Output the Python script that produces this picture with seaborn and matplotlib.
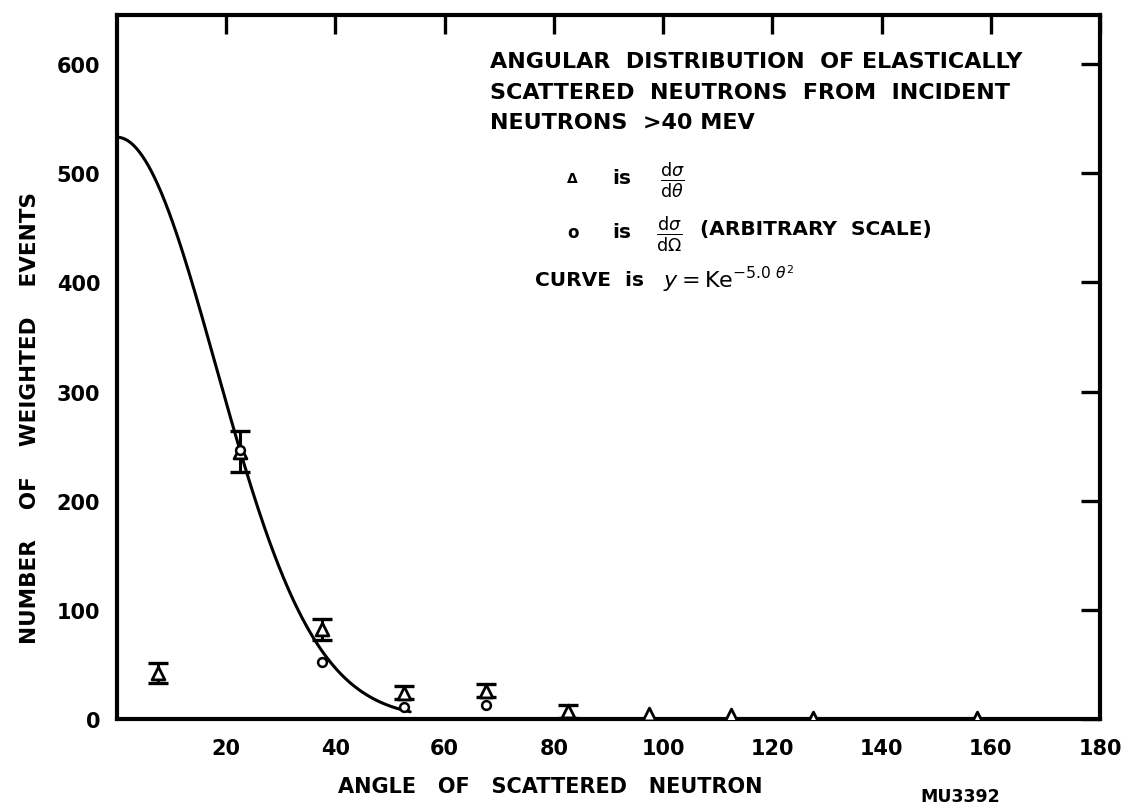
import numpy as np
import pandas as pd
import matplotlib
matplotlib.use("Agg")
import matplotlib.pyplot as plt
import seaborn as sns

# ---------------- data ----------------
tri_angle = [7.5, 22.5, 37.5, 52.5, 67.5, 82.5, 97.5, 112.5, 127.5, 157.5]
tri_value = [42, 245, 82, 24, 26, 7, 5, 4, 1, 1]
tri_err = [9, 19, 10, 6, 6, 6, 0, 0, 0, 0]

circ_angle = [22.5, 37.5, 52.5, 67.5]
circ_value = [246, 52, 11, 13]

# fitted curve y = K exp(-5.0 theta^2), theta in radians (as stated on chart)
curve_K = 533
curve_coef = 5.0
curve_end_deg = 53.7

x_ticks = [20, 40, 60, 80, 100, 120, 140, 160, 180]
y_ticks = [0, 100, 200, 300, 400, 500, 600]

# ---------------- style ----------------
sns.set_style("white")
plt.rcParams["font.family"] = ["DejaVu Sans"]
plt.rcParams["mathtext.fontset"] = "dejavusans"
plt.rcParams["text.color"] = "black"

W, H = 1132, 812
fig = plt.figure(figsize=(W / 100, H / 100), dpi=100)
fig.patch.set_facecolor("white")


def px(x, y):
    return x / W, 1 - y / H


ax_left, ax_right, ax_top, ax_bottom = 117, 1100, 16, 720
ax = fig.add_axes([ax_left / W, 1 - ax_bottom / H,
                   (ax_right - ax_left) / W, (ax_bottom - ax_top) / H])
ax.set_facecolor("white")

# curve
theta_deg = np.linspace(0, curve_end_deg, 300)
curve_df = pd.DataFrame({
    "angle": theta_deg,
    "y": curve_K * np.exp(-curve_coef * np.radians(theta_deg) ** 2),
})
sns.lineplot(data=curve_df, x="angle", y="y", color="black", lw=2.2, ax=ax)

# error bars
tri = pd.DataFrame({"angle": tri_angle, "value": tri_value, "err": tri_err})
eb = tri[tri["err"] > 0]
ax.errorbar(eb["angle"], eb["value"], yerr=eb["err"], fmt="none",
            ecolor="black", elinewidth=2.2, capsize=7, capthick=2.4, zorder=3)

# markers
sns.scatterplot(data=tri, x="angle", y="value", marker="^", s=85,
                color="white", edgecolor="black", linewidth=2.0, ax=ax, zorder=4)
circ = pd.DataFrame({"angle": circ_angle, "value": circ_value})
sns.scatterplot(data=circ, x="angle", y="value", marker="o", s=40,
                color="white", edgecolor="black", linewidth=1.8, ax=ax, zorder=5)

ax.set_xlim(0, 180)
ax.set_ylim(0, 645)
ax.set_xticks(x_ticks)
ax.set_yticks(y_ticks)
ax.set_xticklabels([str(v) for v in x_ticks])
ax.set_yticklabels([str(v) for v in y_ticks])
ax.tick_params(axis="both", direction="in", length=14, width=2.4,
               top=True, right=True, labelsize=15, colors="black")
ax.tick_params(axis="x", pad=14)
ax.tick_params(axis="y", pad=12)
for lab in ax.get_xticklabels() + ax.get_yticklabels():
    lab.set_fontweight("bold")
for sp in ax.spines.values():
    sp.set_visible(True)
    sp.set_linewidth(3)
    sp.set_color("black")
ax.set_xlabel("")
ax.set_ylabel("")

# ---------------- text ----------------
tkw = dict(fontsize=16, fontweight="bold", color="black", va="center", ha="left")
fig.text(*px(490, 62), "ANGULAR  DISTRIBUTION  OF ELASTICALLY", **tkw)
fig.text(*px(490, 93), "SCATTERED  NEUTRONS  FROM  INCIDENT", **tkw)
fig.text(*px(490, 123), "NEUTRONS  >40 MEV", **tkw)

fig.text(*px(572, 179), "Δ", fontsize=10, fontweight="bold", color="black",
         va="center", ha="center")
fig.text(*px(612, 179), "is", fontsize=14.5, fontweight="bold", color="black",
         va="center", ha="left")
fig.text(*px(672, 180), r"$\frac{\mathrm{d}\sigma}{\mathrm{d}\theta}$", fontsize=18,
         color="black", va="center", ha="center")

fig.text(*px(573, 233), "o", fontsize=12, fontweight="bold", color="black",
         va="center", ha="center")
fig.text(*px(612, 233), "is", fontsize=14.5, fontweight="bold", color="black",
         va="center", ha="left")
fig.text(*px(669, 234), r"$\frac{\mathrm{d}\sigma}{\mathrm{d}\Omega}$", fontsize=18,
         color="black", va="center", ha="center")
fig.text(*px(700, 229), "(ARBITRARY  SCALE)", fontsize=14.5, fontweight="bold",
         color="black", va="center", ha="left")

fig.text(*px(535, 281), "CURVE  is", fontsize=14.5, fontweight="bold", color="black",
         va="center", ha="left")
fig.text(*px(663, 279), r"$y = \mathrm{Ke}^{-5.0\ \theta^{2}}$", fontsize=16,
         color="black", va="center", ha="left")

fig.text(*px(30, 418), "NUMBER    OF    WEIGHTED    EVENTS", rotation=90,
         fontsize=15.5, fontweight="bold", color="black", va="center", ha="center")
fig.text(*px(550, 787), "ANGLE   OF   SCATTERED   NEUTRON", fontsize=15,
         fontweight="bold", color="black", va="center", ha="center")
fig.text(*px(960, 797), "MU3392", fontsize=12.5, fontweight="bold", color="black",
         va="center", ha="center")

fig.savefig("out.png", dpi=100, facecolor="white")
